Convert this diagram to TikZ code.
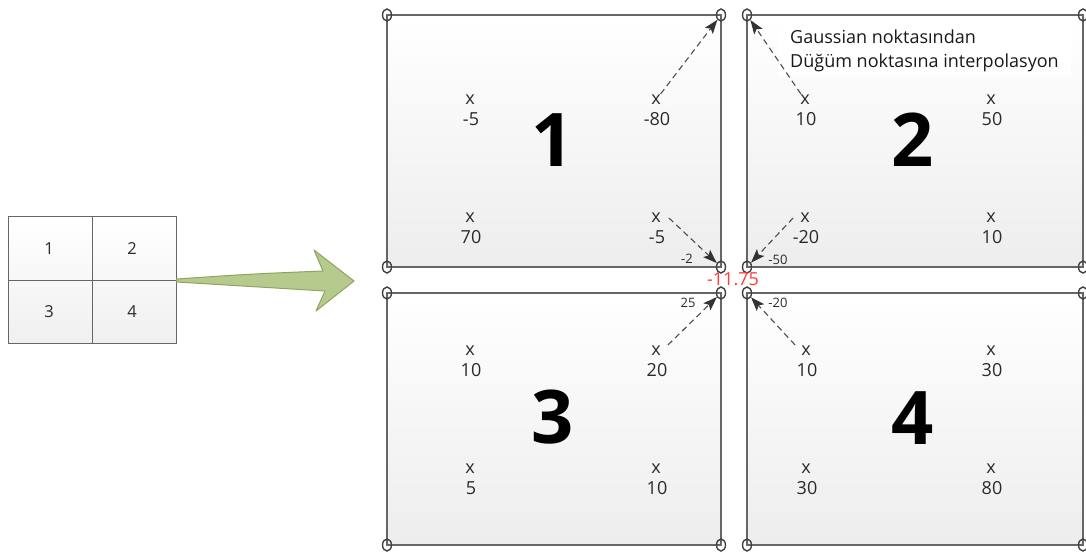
\documentclass[tikz,border=0pt]{standalone}
\usepackage{fontspec}
\setmainfont{Open Sans}
\usetikzlibrary{arrows.meta,shapes.geometric}
\definecolor{boxgray}{HTML}{666666}
\definecolor{textgray}{HTML}{2A2A2A}
\definecolor{arrowgreen}{HTML}{B7CA8D}
\definecolor{arrowedge}{HTML}{8EA561}
\definecolor{nodered}{HTML}{FF3B3B}
\tikzset{
  elem/.style={draw=boxgray,line width=1.1pt,top color=white,bottom color=gray!14},
  knot/.style={draw=black!75,line width=1.4pt,ellipse,minimum width=9pt,minimum height=12pt,inner sep=0pt},
  gp/.style={inner sep=1pt,text=textgray,font=\fontsize{18}{18}\selectfont},
  val/.style={inner sep=1pt,text=textgray,font=\fontsize{18}{18}\selectfont},
  big/.style={font=\fontsize{74}{74}\selectfont\bfseries},
  wt/.style={inner sep=1pt,text=textgray,font=\fontsize{13}{13}\selectfont},
  cell/.style={text=textgray,font=\fontsize{16.5}{16.5}\selectfont},
  interp/.style={-{Stealth[length=14pt,width=10pt,inset=3pt,color=black!80]},dash pattern=on 6pt off 4pt,draw=black!70,line width=1.1pt}
}

\begin{document}
\begin{tikzpicture}[x=1pt,y=-1pt]
  \useasboundingbox (0,0) rectangle (1086,555);
  \node[draw=boxgray,line width=1pt,top color=white,bottom color=gray!12,minimum width=168pt,minimum height=127pt] (grid) at (92,280) {};
  \draw[boxgray,line width=1pt] (grid.north) -- (grid.south) (grid.west) -- (grid.east);
  \node[cell] (c1) at (49,249) {1};
  \node[cell] (c2) at (132,249) {2};
  \node[cell] (c3) at (49,312) {3};
  \node[cell] (c4) at (132,312) {4};
  \coordinate (tip) at (354,281);
  \draw[fill=arrowgreen,draw=arrowedge,line width=1pt,line join=round]
    ([yshift=1pt]grid.east) .. controls (250,274) .. (323,271) -- (314,250) -- (tip) -- (316,311) -- (325,291)
    .. controls (250,287) .. ([yshift=-2pt]grid.east) -- cycle;

  \foreach \e/\xa/\ya/\xb/\yb in {1/387/15/721/267,2/747/15/1083/267,3/387/293/721/545,4/747/293/1083/545} {
    \shade[elem] (\xa,\ya) rectangle (\xb,\yb);
    \node[knot] (k\e tl) at (\xa,\ya) {};
    \node[knot] (k\e tr) at (\xb,\ya) {};
    \node[knot] (k\e bl) at (\xa,\yb) {};
    \node[knot] (k\e br) at (\xb,\yb) {};
  }
  \node[big] (n1) at (553,140) {1};
  \node[big] (n2) at (913,140) {2};
  \node[big] (n3) at (553,417) {3};
  \node[big] (n4) at (913,418) {4};

  \foreach \n/\x/\y/\v in {1tl/470/100/-5,1tr/656/100/-80,1bl/470/218/70,1br/656/218/-5,
      2tl/805/100/10,2tr/991/100/50,2bl/805/218/-20,2br/991/218/10,
      3tl/470/351/10,3tr/656/351/20,3bl/470/469/5,3br/656/469/10,
      4tl/806/351/10,4tr/991/351/30,4bl/806/469/30,4br/991/469/80} {
    \node[gp] (g\n) at (\x,\y) {x};
    \node[val] (v\n) at (\x+1,\y+19) {\v};
  }

  \node[fill=white,align=left,anchor=west,inner xsep=12pt,inner ysep=4pt,text=black!90,
    font=\fontsize{18}{24}\selectfont] (note) at (778,51) {Gaussian noktasından\\Düğüm noktasına interpolasyon};

  \draw[interp] (g1tr) -- (k1tr);
  \draw[interp] ([xshift=7pt]g1br.east) -- (k1br);
  \draw[interp] (g2tl) -- (k2tl);
  \draw[interp] ([xshift=-6pt]g2bl.west) -- (k2bl);
  \draw[interp] ([xshift=6pt]g3tr.north east) -- (k3tr);
  \draw[interp] ([xshift=-5pt]g4tl.north west) -- (k4tl);

  \node[wt] (w1) at (687,259) {-2};
  \node[wt] (w2) at (778,260) {-50};
  \node[wt] (w3) at (688,303) {25};
  \node[wt] (w4) at (778,303) {-20};
  \node[text=nodered,font=\fontsize{18}{18}\selectfont] (avg) at (733,279) {-11.75};
\end{tikzpicture}
\end{document}
